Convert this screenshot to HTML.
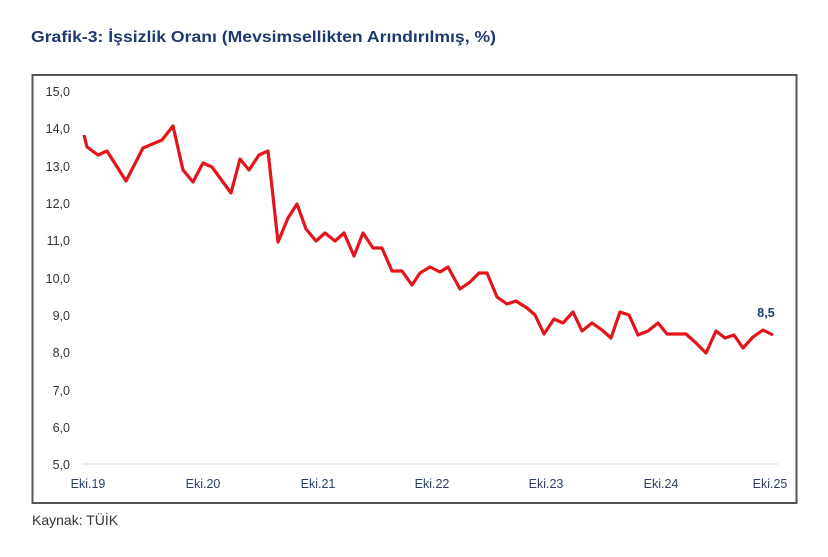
<!DOCTYPE html>
<html><head><meta charset="utf-8"><style>
body{margin:0;width:828px;height:552px;background:#fff;overflow:hidden;font-family:"Liberation Sans",sans-serif}
</style></head><body>
<svg width="828" height="552" xmlns="http://www.w3.org/2000/svg" font-family="Liberation Sans, sans-serif">
<text x="31" y="42" font-size="16" font-weight="bold" fill="#1f3a6e" textLength="465" lengthAdjust="spacingAndGlyphs">Grafik-3: İşsizlik Oranı (Mevsimsellikten Arındırılmış, %)</text>
<rect x="32.5" y="75" width="764" height="428" fill="none" stroke="#555" stroke-width="2"/>
<line x1="82" y1="464" x2="778" y2="464" stroke="#d9d9d9" stroke-width="1"/>
<g font-size="12.5" fill="#333" text-anchor="end">
<text x="70" y="96">15,0</text><text x="70" y="133">14,0</text><text x="70" y="171">13,0</text>
<text x="70" y="208">12,0</text><text x="70" y="245">11,0</text><text x="70" y="283">10,0</text>
<text x="70" y="320">9,0</text><text x="70" y="357">8,0</text><text x="70" y="395">7,0</text>
<text x="70" y="432">6,0</text><text x="70" y="469">5,0</text>
</g>
<g font-size="12.5" fill="#2a3f66" text-anchor="middle">
<text x="88" y="488">Eki.19</text><text x="203" y="488">Eki.20</text><text x="318" y="488">Eki.21</text>
<text x="432" y="488">Eki.22</text><text x="546" y="488">Eki.23</text><text x="661" y="488">Eki.24</text>
<text x="770" y="488">Eki.25</text>
</g>
<polyline fill="none" stroke="#e3141b" stroke-width="3.2" stroke-linejoin="round" points="84,135 87,147 98,155 107,151 126,181 143,148 162,140 173,126 183,170 193,182 203,163 212,167 231,193 240,159 249,170 259,155 268,151 278,242 288,218 297,204 306,229 316,241 325,233 335,241 344,233 354,256 363,233 373,248 382,248 392,271 402,271 412,285 420,273 430,267 440,272 448,267 460,289 470,282 479,273 487,273 497,297 507,304 516,301 527,308 535,315 544,334 554,319 563,323 573,312 582,331 592,323 602,330 611,338 620,312 629,315 638,335 648,331 658,323 667,334 677,334 686,334 696,343 706,353 716,331 725,338 734,335 743,348 753,337 763,330 773,335"/>
<text x="766" y="317" font-size="12.5" font-weight="bold" fill="#1f3a6e" text-anchor="middle">8,5</text>
<text x="32" y="525" font-size="14" fill="#333">Kaynak: TÜİK</text>
</svg>
</body></html>
